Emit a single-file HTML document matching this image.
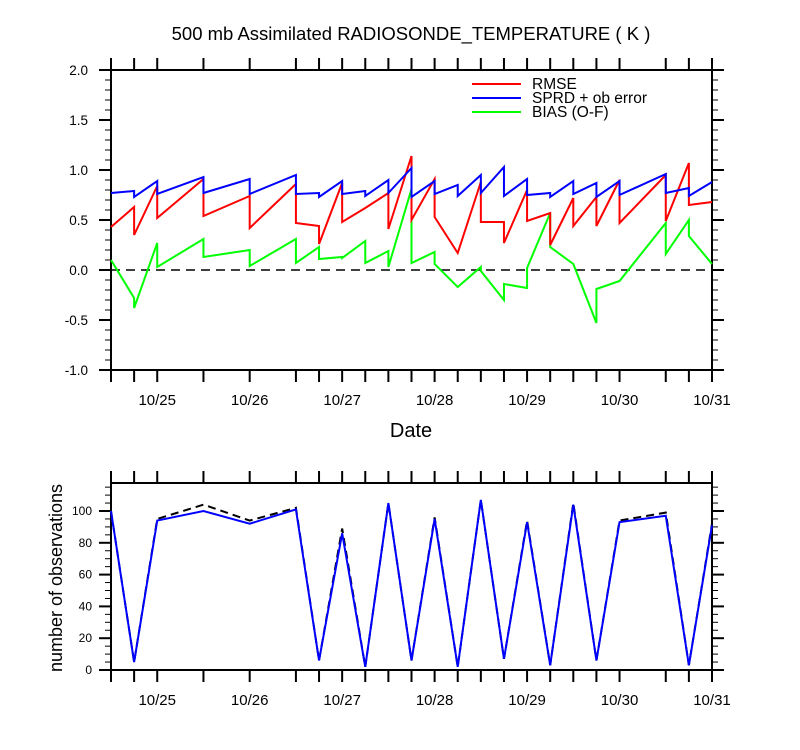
<!DOCTYPE html>
<html><head><meta charset="utf-8"><style>
html,body{margin:0;padding:0;background:#fff}
svg{display:block;font-family:"Liberation Sans",sans-serif}
</style></head><body>
<svg id="c" width="800" height="750" viewBox="0 0 800 750"></svg>
<script>
const tickTimes=[0,6,12,24,36,48,54,60,66,72,78,84,90,96,102,108,114,120,126,132,144,150,156];
const dayLabels=["10/25","10/26","10/27","10/28","10/29","10/30","10/31"];
const dayTimes=[12,36,60,84,108,132,156];
const rmseT=[0,6,6,12,12,24,24,36,36,48,48,54,54,60,60,66,72,72,78,78,84,84,90,96,96,102,102,108,108,114,114,120,120,126,126,132,132,144,144,150,150,156];
const rmseV=[0.43,0.63,0.35,0.84,0.52,0.91,0.54,0.74,0.42,0.86,0.47,0.44,0.26,0.87,0.48,0.62,0.77,0.41,1.14,0.50,0.91,0.53,0.17,0.88,0.48,0.48,0.27,0.80,0.49,0.57,0.25,0.72,0.44,0.73,0.44,0.90,0.47,0.95,0.49,1.07,0.65,0.68];
const sprdT=[0,6,6,12,12,24,24,36,36,48,48,54,54,60,60,66,66,72,72,78,78,84,84,90,90,96,96,102,102,108,108,114,114,120,120,126,126,132,132,144,144,150,150,156];
const sprdV=[0.77,0.79,0.73,0.89,0.76,0.93,0.77,0.91,0.76,0.95,0.76,0.77,0.73,0.89,0.76,0.79,0.74,0.90,0.77,1.02,0.73,0.89,0.76,0.85,0.74,0.95,0.77,1.03,0.74,0.91,0.75,0.77,0.73,0.89,0.76,0.87,0.73,0.89,0.75,0.96,0.77,0.82,0.74,0.88];
const biasT=[0,6,6,12,12,24,24,36,36,48,48,54,54,60,60,66,66,72,72,78,78,84,84,90,96,96,102,102,108,108,114,114,120,126,126,132,144,144,150,150,156];
const biasV=[0.10,-0.28,-0.38,0.27,0.03,0.31,0.13,0.20,0.04,0.31,0.07,0.23,0.11,0.13,0.12,0.29,0.07,0.19,0.03,0.81,0.07,0.18,0.06,-0.17,0.03,-0.01,-0.30,-0.14,-0.18,0.02,0.57,0.23,0.06,-0.53,-0.19,-0.11,0.47,0.16,0.50,0.34,0.06];
const obsUsed=[100,5,94,100,92,101,6,86,2,105,6,95,2,107,7,93,3,104,6,93,97,3,91];
const obsTotal=[100,5,95,104,94,102,6,89,2,105,6,96,2,107,7,94,3,105,6,94,99,3,92];
const yTopLabels=["-1.0","-0.5","0.0","0.5","1.0","1.5","2.0"];
const yBotLabels=["0","20","40","60","80","100"];

const svg=document.getElementById('c');
const NS='http://www.w3.org/2000/svg';
function mk(tag,attrs,parent){const e=document.createElementNS(NS,tag);for(const k in attrs)e.setAttribute(k,attrs[k]);(parent||svg).appendChild(e);return e;}
const X0=111,X1=712;
const xs=t=>X0+t*(X1-X0)/156;
const yT=v=>270-v*100;
const yB=v=>670-v*1.59;

let t=mk('text',{x:411,y:40,'text-anchor':'middle','font-size':18.5});
t.textContent='500 mb Assimilated RADIOSONDE_TEMPERATURE ( K )';



function panel(top,bot,name){
  const g=mk('g',{});
  
  
  mk('rect',{x:X0,y:top,width:X1-X0,height:bot-top,fill:'none',stroke:'#000','stroke-width':2},g);
  tickTimes.forEach(tt=>{
    const x=xs(tt);
    mk('line',{x1:x,x2:x,y1:bot,y2:bot+12,stroke:'#000','stroke-width':2},g);
    mk('line',{x1:x,x2:x,y1:top,y2:top-12,stroke:'#000','stroke-width':2},g);
  });
  dayTimes.forEach((tt,i)=>{
    const l=mk('text',{x:xs(tt),y:bot+35,'text-anchor':'middle','font-size':15},g);
    l.textContent=dayLabels[i];
    
    
  });
  return g;
}
const gt=panel(70,370,'top-panel');
for(let i=-10;i<=20;i++){
  const v=i/10,y=yT(v),L=(i%5===0)?12:6;
  mk('line',{x1:X0-L,x2:X0,y1:y,y2:y,stroke:'#000','stroke-width':i%5===0?2:1},gt);
  mk('line',{x1:X1,x2:X1+L,y1:y,y2:y,stroke:'#000','stroke-width':i%5===0?2:1},gt);
}
yTopLabels.forEach((s,i)=>{
  const l=mk('text',{x:88,y:yT(-1+i*0.5)+5,'text-anchor':'end','font-size':13.5},gt);
  l.textContent=s;
  
  
});
let z=mk('line',{x1:X0,x2:X1,y1:yT(0),y2:yT(0),stroke:'#000','stroke-width':1.5,'stroke-dasharray':'9,6'},gt);


function poly(T,V,fx,fy,col,name,dash){
  const p=mk('polyline',{points:T.map((tt,i)=>fx(tt)+','+fy(V[i])).join(' '),fill:'none',stroke:col,'stroke-width':2,'stroke-linejoin':'miter'});
  if(dash)p.setAttribute('stroke-dasharray',dash);
  
  
}
poly(biasT,biasV,xs,yT,'#00ff00','bias-line');
poly(rmseT,rmseV,xs,yT,'#ff0000','rmse-line');
poly(sprdT,sprdV,xs,yT,'#0000ff','sprd-line');
const leg=[['RMSE','#ff0000'],['SPRD + ob error','#0000ff'],['BIAS (O-F)','#00ff00']];
leg.forEach((e,i)=>{
  const y=84+i*14;
  const g=mk('g',{});
  
  
  mk('line',{x1:472,x2:521,y1:y,y2:y,stroke:e[1],'stroke-width':2},g);
  const l=mk('text',{x:532,y:y+5,'font-size':15.5},g);
  l.textContent=e[0];
});
let xt=mk('text',{x:411,y:437,'text-anchor':'middle','font-size':20});
xt.textContent='Date';



const gb=panel(483,670,'bottom-panel');
for(let v=0;v<=115;v+=5){
  const y=yB(v),M=v%20===0,L=M?12:6;
  mk('line',{x1:X0-L,x2:X0,y1:y,y2:y,stroke:'#000','stroke-width':M?2:1},gb);
  mk('line',{x1:X1,x2:X1+L,y1:y,y2:y,stroke:'#000','stroke-width':M?2:1},gb);
}
yBotLabels.forEach((s,i)=>{
  const l=mk('text',{x:92,y:yB(i*20)+4,'text-anchor':'end','font-size':12},gb);
  l.textContent=s;
  
  
});
let yt=mk('text',{x:0,y:0,'text-anchor':'middle','font-size':18,transform:'translate(62,578) rotate(-90)'});
yt.textContent='number of observations';


poly(tickTimes,obsTotal,xs,yB,'#000','obs-total-line','8,5');
poly(tickTimes,obsUsed,xs,yB,'#0000ff','obs-used-line');
</script>
</body></html>
